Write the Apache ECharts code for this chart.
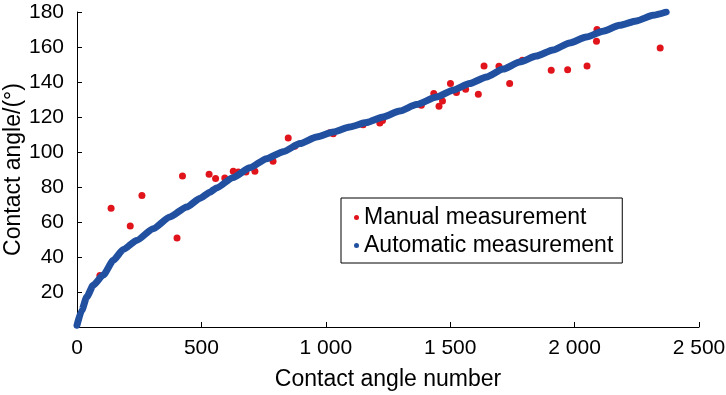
<!DOCTYPE html>
<html>
<head>
<meta charset="utf-8">
<script src="https://cdn.jsdelivr.net/npm/echarts@6/dist/echarts.min.js"></script>
<style>
html,body{margin:0;padding:0;background:#fff;}
#chart{width:726px;height:395px;}
</style>
</head>
<body>
<div id="chart"></div>
<script>
var autoCounts = [0, 19, 39, 65, 106, 146, 186, 240, 306, 373, 441, 494, 534, 561, 628, 695, 762, 829, 896, 963, 1030, 1096, 1163, 1230, 1297, 1364, 1445, 1511, 1578, 1646, 1713, 1779, 1846, 1913, 1980, 2047, 2114, 2181, 2248, 2315, 2368];
var autoAngles = [1, 9.5, 17.1, 23.8, 29.8, 38.1, 44.3, 49.5, 56.2, 62.9, 68.6, 73.5, 77, 79.5, 85.5, 91, 96.2, 100.2, 104.8, 108.6, 111.4, 114.3, 116.8, 120, 123.4, 127.1, 131.4, 135.3, 139.1, 142.9, 147.4, 151.4, 154.8, 158.3, 162.3, 165.7, 169, 172.4, 174.9, 178.1, 180];
// Manual measurement
var manualCounts = [92, 137, 214, 261, 402, 424, 531, 557, 594, 628, 648, 679, 715, 788, 849, 875, 1016, 1030, 1150, 1217, 1228, 1384, 1434, 1455, 1469, 1501, 1525, 1562, 1613, 1636, 1696, 1739, 1790, 1906, 1972, 2050, 2088, 2090, 2344];
var manualAngles = [29.5, 67.8, 57.7, 75.1, 50.9, 86.3, 87.3, 84.8, 85.1, 89, 88.6, 88.6, 89, 94.7, 108, 103.3, 111, 110.5, 115.6, 116.6, 118, 126.7, 133.4, 126.1, 129.1, 139.1, 134, 135.8, 133, 149.2, 149, 139.1, 152.4, 146.7, 147, 149.2, 163.3, 170, 159.4];
var xTicks = [0, 500, 1000, 1500, 2000, 2500];
var yTicks = [20, 40, 60, 80, 100, 120, 140, 160, 180];

var FONT = 'Liberation Sans, Arial, sans-serif';
function pairs(xs, ys){ return xs.map(function(x,i){ return [x, ys[i]]; }); }
function fmtThousands(v){
  var s = String(v);
  if (s.length > 3) s = s.slice(0, s.length-3) + ' ' + s.slice(s.length-3);
  return s;
}

var chart = echarts.init(document.getElementById('chart'), null, {renderer:'canvas'});
chart.setOption({
  animation: false,
  backgroundColor: '#fff',
  grid: {left: 77, right: 27, top: 12, bottom: 68, containLabel: false, outerBoundsMode: 'none'},
  legend: {
    orient: 'vertical',
    left: 341, top: 198,
    padding: [8, 9, 6, 13],
    itemGap: 5,
    itemWidth: 5, itemHeight: 5,
    borderColor: '#000', borderWidth: 1,
    textStyle: {fontFamily: FONT, fontSize: 23, color: '#000'},
    data: [
      {name: 'Manual measurement', icon: 'circle', itemStyle: {color: '#e1141c'}},
      {name: 'Automatic measurement', icon: 'circle', itemStyle: {color: '#2150a0'}}
    ]
  },
  xAxis: {
    type: 'value', min: 0, max: 2500, interval: 500,
    name: 'Contact angle number', nameLocation: 'middle', nameGap: 41, nameMoveOverlap: false,
    nameTextStyle: {fontFamily: FONT, fontSize: 23, color: '#000'},
    axisLine: {show: true, lineStyle: {color: '#000', width: 1}},
    axisTick: {show: true, inside: true, length: 5, lineStyle: {color: '#000'}},
    axisLabel: {fontFamily: FONT, fontSize: 21, color: '#000', margin: 11,
      formatter: function(v){ return xTicks.indexOf(v) >= 0 ? fmtThousands(v) : ''; }},
    splitLine: {show: false}
  },
  yAxis: {
    type: 'value', min: 0, max: 180, interval: 20,
    name: 'Contact angle/(°)', nameLocation: 'middle', nameGap: 52, nameMoveOverlap: false,
    nameTextStyle: {fontFamily: FONT, fontSize: 23, color: '#000'},
    axisLine: {show: true, lineStyle: {color: '#000', width: 1}},
    axisTick: {show: true, inside: true, length: 5, lineStyle: {color: '#000'}},
    axisLabel: {fontFamily: FONT, fontSize: 21, color: '#000', margin: 13,
      formatter: function(v){ return yTicks.indexOf(v) >= 0 ? String(v) : ''; }},
    splitLine: {show: false}
  },
  series: [
    {
      name: 'Manual measurement', type: 'scatter', z: 2,
      symbol: 'circle', symbolSize: 7,
      itemStyle: {color: '#e1141c', opacity: 1},
      data: pairs(manualCounts, manualAngles)
    },
    {
      name: 'Automatic measurement', type: 'line', z: 3,
      symbol: 'none', smooth: 0.2, smoothMonotone: 'x',
      lineStyle: {color: '#2150a0', width: 7, cap: 'round', join: 'round'},
      itemStyle: {color: '#2150a0'},
      data: pairs(autoCounts, autoAngles)
    }
  ]
});
</script>
</body>
</html>
